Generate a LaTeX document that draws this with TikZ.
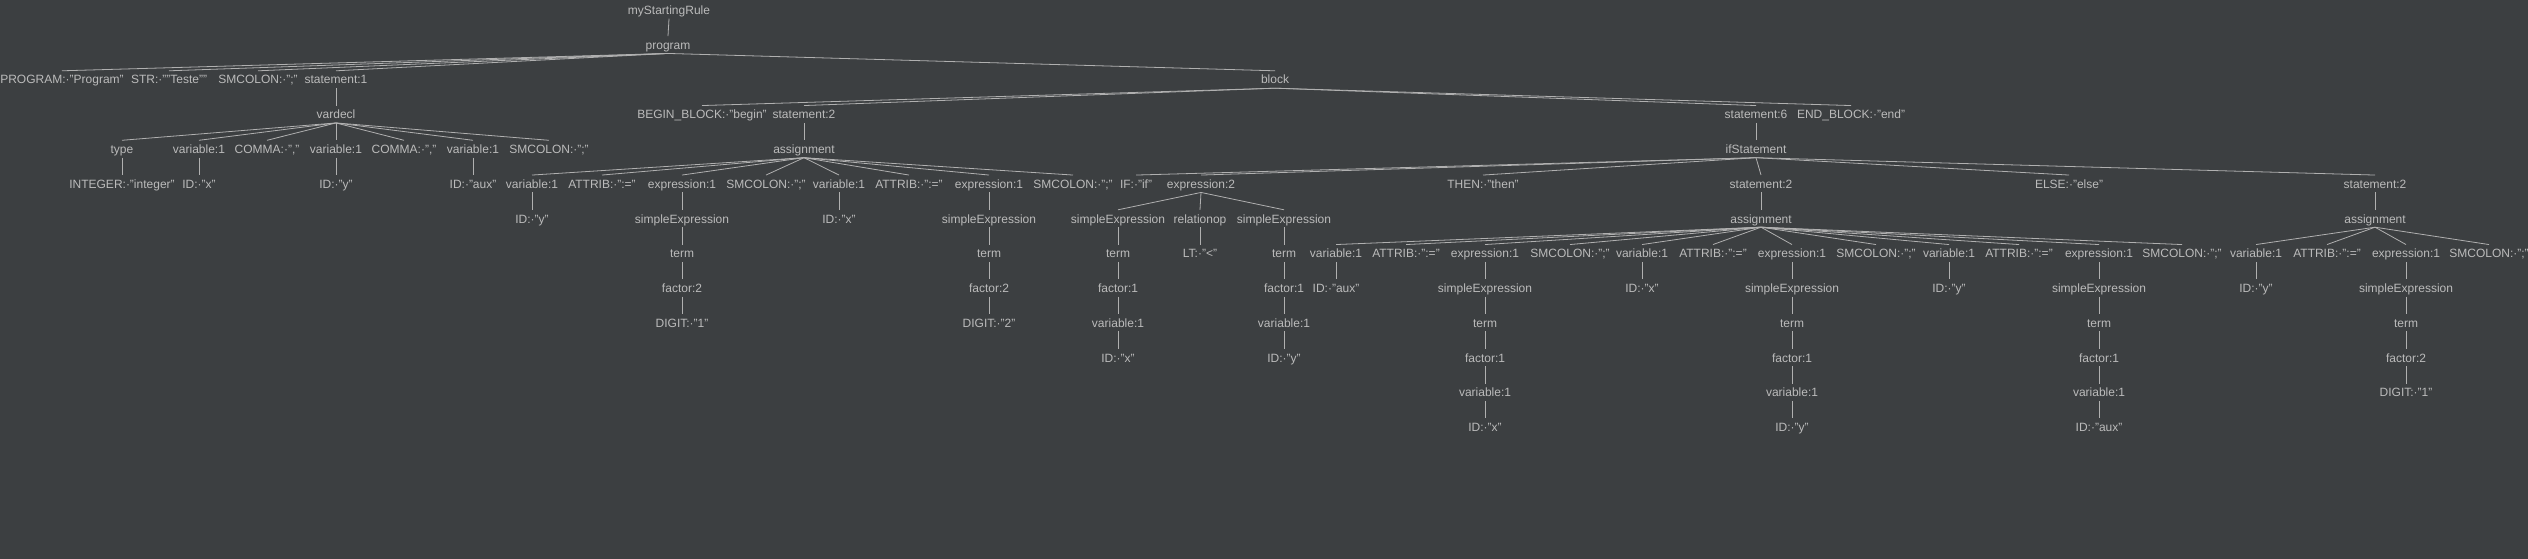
\documentclass[tikz,border=0pt]{standalone}
\usepackage{fontspec}
\setmainfont{Liberation Sans}
\definecolor{bg}{HTML}{3C3F41}
\definecolor{txt}{HTML}{BBBBBB}
\definecolor{edgegray}{HTML}{B0B0B0}
\tikzset{tok/.style={text=txt,font=\fontsize{12}{14}\selectfont,text height=11pt,text depth=2pt,inner xsep=0pt,inner ysep=2pt},
lnk/.style={draw=edgegray,line width=0.8pt}}
\begin{document}
\begin{tikzpicture}[x=1pt,y=-34.75pt]
\fill[bg] (0pt,10pt) rectangle (2528pt,-549pt);
\useasboundingbox (0pt,10pt) rectangle (2528pt,-549pt);
\foreach \n/\x/\l/\t in {rule/669/0/{myStartingRule},prog/668/1/{program},
pk/62/2/{PROGRAM:·"Program"},str/169/2/{STR:·""Teste""},sc0/258/2/{SMCOLON:·";"},s1/336/2/{statement:1},blk/1275/2/{block},
vd/336/3/{vardecl},bb/702/3/{BEGIN\_BLOCK:·"begin"},s2/804/3/{statement:2},s6/1756/3/{statement:6},eb/1851/3/{END\_BLOCK:·"end"},
ty/122/4/{type},v1/199/4/{variable:1},cm1/267/4/{COMMA:·","},v2/336/4/{variable:1},cm2/404/4/{COMMA:·","},v3/473/4/{variable:1},sc1/549/4/{SMCOLON:·";"},as1/804/4/{assignment},ifs/1756/4/{ifStatement},
int/122/5/{INTEGER:·"integer"},i1/199/5/{ID:·"x"},i2/336/5/{ID:·"y"},i3/473/5/{ID:·"aux"},
a1v/532/5/{variable:1},a1a/602/5/{ATTRIB:·":="},a1e/682/5/{expression:1},a1s/766/5/{SMCOLON:·";"},a2v/839/5/{variable:1},a2a/909/5/{ATTRIB:·":="},a2e/989/5/{expression:1},a2s/1073/5/{SMCOLON:·";"},
kif/1136/5/{IF:·"if"},ex2/1201/5/{expression:2},kth/1483/5/{THEN:·"then"},s2b/1761/5/{statement:2},kel/2069/5/{ELSE:·"else"},s2c/2375/5/{statement:2},
a1i/532/6/{ID:·"y"},a1se/682/6/{simpleExpression},a2i/839/6/{ID:·"x"},a2se/989/6/{simpleExpression},c1se/1118/6/{simpleExpression},rop/1200/6/{relationop},c2se/1284/6/{simpleExpression},as2/1761/6/{assignment},as3/2375/6/{assignment},
a1t/682/7/{term},a2t/989/7/{term},c1t/1118/7/{term},lt/1200/7/{LT:·"<"},c2t/1284/7/{term},
b1v/1336/7/{variable:1},b1a/1406/7/{ATTRIB:·":="},b1e/1485/7/{expression:1},b1s/1570/7/{SMCOLON:·";"},b2v/1642/7/{variable:1},b2a/1713/7/{ATTRIB:·":="},b2e/1792/7/{expression:1},b2s/1876/7/{SMCOLON:·";"},
b3v/1949/7/{variable:1},b3a/2019/7/{ATTRIB:·":="},b3e/2099/7/{expression:1},b3s/2182/7/{SMCOLON:·";"},d1v/2256/7/{variable:1},d1a/2327/7/{ATTRIB:·":="},d1e/2406/7/{expression:1},d1s/2489/7/{SMCOLON:·";"},
a1f/682/8/{factor:2},a2f/989/8/{factor:2},c1f/1118/8/{factor:1},c2f/1284/8/{factor:1},b1i/1336/8/{ID:·"aux"},b1se/1485/8/{simpleExpression},b2i/1642/8/{ID:·"x"},b2se/1792/8/{simpleExpression},b3i/1949/8/{ID:·"y"},b3se/2099/8/{simpleExpression},d1i/2256/8/{ID:·"y"},d1se/2406/8/{simpleExpression},
a1d/682/9/{DIGIT:·"1"},a2d/989/9/{DIGIT:·"2"},c1v/1118/9/{variable:1},c2v/1284/9/{variable:1},b1t/1485/9/{term},b2t/1792/9/{term},b3t/2099/9/{term},d1t/2406/9/{term},
c1i/1118/10/{ID:·"x"},c2i/1284/10/{ID:·"y"},b1f/1485/10/{factor:1},b2f/1792/10/{factor:1},b3f/2099/10/{factor:1},d1f/2406/10/{factor:2},
b1w/1485/11/{variable:1},b2w/1792/11/{variable:1},b3w/2099/11/{variable:1},d1d/2406/11/{DIGIT:·"1"},
b1j/1485/12/{ID:·"x"},b2j/1792/12/{ID:·"y"},b3j/2099/12/{ID:·"aux"}}
\node[tok] (\n) at (\x,\l) {\t};
\foreach \p/\c in {rule/prog,prog/pk,prog/str,prog/sc0,prog/s1,prog/blk,s1/vd,vd/ty,vd/v1,vd/cm1,vd/v2,vd/cm2,vd/v3,vd/sc1,ty/int,v1/i1,v2/i2,v3/i3,
blk/bb,blk/s2,blk/s6,blk/eb,s2/as1,s6/ifs,as1/a1v,as1/a1a,as1/a1e,as1/a1s,as1/a2v,as1/a2a,as1/a2e,as1/a2s,
a1v/a1i,a1e/a1se,a1se/a1t,a1t/a1f,a1f/a1d,a2v/a2i,a2e/a2se,a2se/a2t,a2t/a2f,a2f/a2d,
ifs/kif,ifs/ex2,ifs/kth,ifs/s2b,ifs/kel,ifs/s2c,ex2/c1se,ex2/rop,ex2/c2se,c1se/c1t,c1t/c1f,c1f/c1v,c1v/c1i,rop/lt,c2se/c2t,c2t/c2f,c2f/c2v,c2v/c2i,
s2b/as2,s2c/as3,as2/b1v,as2/b1a,as2/b1e,as2/b1s,as2/b2v,as2/b2a,as2/b2e,as2/b2s,as2/b3v,as2/b3a,as2/b3e,as2/b3s,
b1v/b1i,b1e/b1se,b1se/b1t,b1t/b1f,b1f/b1w,b1w/b1j,b2v/b2i,b2e/b2se,b2se/b2t,b2t/b2f,b2f/b2w,b2w/b2j,b3v/b3i,b3e/b3se,b3se/b3t,b3t/b3f,b3f/b3w,b3w/b3j,
as3/d1v,as3/d1a,as3/d1e,as3/d1s,d1v/d1i,d1e/d1se,d1se/d1t,d1t/d1f,d1f/d1d}
\draw[lnk] (\p.south) -- (\c.north);
\end{tikzpicture}
\end{document}
